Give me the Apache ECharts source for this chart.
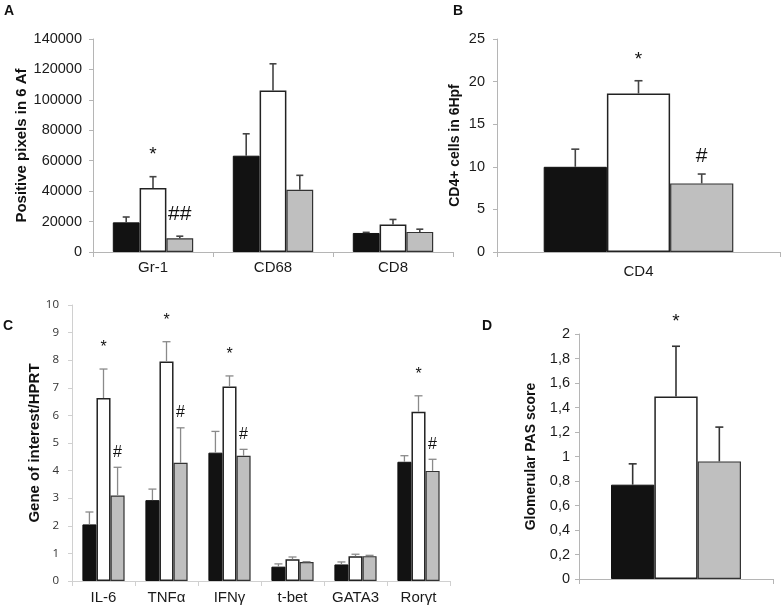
<!DOCTYPE html>
<html><head><meta charset="utf-8">
<script src="https://cdn.jsdelivr.net/npm/echarts@6/dist/echarts.min.js"></script>
<style>html,body{margin:0;padding:0;background:#fff}#c{width:784px;height:609px}</style>
</head><body><div id="c"></div>
<script>
// ---------- DATA ----------
// Panel A
const aCategories = ['Gr-1', 'CD68', 'CD8'];
const aBlack = [19500, 63300, 12500];
const aBlackErr = [3500, 14400, 400];
const aWhite = [42000, 106200, 18100];
const aWhiteErr = [7500, 17500, 3300];
const aGray = [9000, 40900, 13200];
const aGrayErr = [1400, 9500, 1800];
const aWhiteMarks = ['*', '', ''];
const aGrayMarks = ['##', '', ''];
const aTicks = [0, 140000, 20000];
// Panel B
const bCategories = ['CD4'];
const bBlack = [10.0];
const bBlackErr = [2.07];
const bWhite = [18.6];
const bWhiteErr = [1.5];
const bGray = [8.05];
const bGrayErr = [1.1];
const bWhiteMarks = ['*'];
const bGrayMarks = ['#'];
const bTicks = [0, 25, 5];
// Panel C
const cCategories = ['IL-6', 'TNFα', 'IFNγ', 't-bet', 'GATA3', 'Rorγt'];
const cBlack = [2.05, 2.93, 4.65, 0.52, 0.60, 4.32];
const cBlackErr = [0.45, 0.40, 0.77, 0.10, 0.09, 0.22];
const cWhite = [6.63, 7.95, 7.05, 0.79, 0.90, 6.13];
const cWhiteErr = [1.05, 0.72, 0.38, 0.08, 0.07, 0.58];
const cGray = [3.10, 4.28, 4.54, 0.69, 0.90, 3.99];
const cGrayErr = [1.02, 1.27, 0.23, 0.01, 0.03, 0.42];
const cWhiteMarks = ['*', '*', '*', '', '', '*'];
const cGrayMarks = ['#', '#', '#', '', '', '#'];
const cTicks = [0, 10, 1];
// Panel D
const dCategories = [''];
const dBlack = [0.77];
const dBlackErr = [0.17];
const dWhite = [1.49];
const dWhiteErr = [0.41];
const dGray = [0.96];
const dGrayErr = [0.28];
const dWhiteMarks = ['*'];
const dGrayMarks = [''];
const dTicks = [0, 2, 0.2];

// ---------- STYLE ----------
const GAP = 0.33;
const FONT = 'Liberation Sans, Arial, Helvetica, sans-serif';
const fills = [
  { color: '#121212', borderColor: '#111', borderWidth: 1 },
  { color: '#ffffff', borderColor: '#222', borderWidth: 1.5 },
  { color: '#bfbfbf', borderColor: '#333', borderWidth: 1.2 }
];

const panels = [
  { cats: aCategories, groups: [[aBlack, aBlackErr, null], [aWhite, aWhiteErr, aWhiteMarks], [aGray, aGrayErr, aGrayMarks]],
    ticks: aTicks, grid: { left: 93, top: 39, width: 360, height: 213 },
    name: 'Positive pixels in 6 Af', nameSize: 15, nameGap: 64, labelSize: 14.5, labelMargin: 11,
    catMargin: 8, axisColor: '#b5b5b5', err: { color: '#444', width: 1.6, cap: 3.5 },
    star: { size: 19, off: 22 }, hash: { size: 21, off: 22 }, tickFont: FONT },
  { cats: bCategories, groups: [[bBlack, bBlackErr, null], [bWhite, bWhiteErr, bWhiteMarks], [bGray, bGrayErr, bGrayMarks]],
    ticks: bTicks, grid: { left: 497, top: 39, width: 283, height: 213 },
    name: 'CD4+ cells in 6Hpf', nameSize: 14, nameGap: 35, labelSize: 14.5, labelMargin: 12,
    catMargin: 12, axisColor: '#b5b5b5', err: { color: '#444', width: 1.6, cap: 4 },
    star: { size: 19, off: 21 }, hash: { size: 21, off: 18 }, tickFont: FONT },
  { cats: cCategories, groups: [[cBlack, cBlackErr, null], [cWhite, cWhiteErr, cWhiteMarks], [cGray, cGrayErr, cGrayMarks]],
    ticks: cTicks, grid: { left: 72, top: 305, width: 378, height: 276 },
    name: 'Gene of interest/HPRT', nameSize: 15, nameGap: 29, labelSize: 11.5, labelMargin: 13,
    catMargin: 9, axisColor: '#d0d0d0', err: { color: '#8a8a8a', width: 1.3, cap: 4 },
    star: { size: 16, off: 21 }, hash: { size: 16, off: 15 }, tickFont: 'Open Sans, sans-serif' },
  { cats: dCategories, groups: [[dBlack, dBlackErr, null], [dWhite, dWhiteErr, dWhiteMarks], [dGray, dGrayErr, dGrayMarks]],
    ticks: dTicks, grid: { left: 579, top: 334, width: 194, height: 245 },
    name: 'Glomerular PAS score', nameSize: 14, nameGap: 41, labelSize: 14.5, labelMargin: 9,
    catMargin: 8, axisColor: '#b5b5b5', err: { color: '#333', width: 1.6, cap: 4 },
    star: { size: 19, off: 24 }, hash: { size: 18, off: 18 }, tickFont: FONT }
];

function errRender(gi, marks, p) {
  return function (params, api) {
    const k = api.value(0), v = api.value(1), e = api.value(2);
    const bandW = api.size([1, 0])[0];
    const bw = bandW * (1 - GAP) / 3;
    const p0 = api.coord([k, v]);
    const p1 = api.coord([k, v + e]);
    const x = p0[0] + (gi - 1) * bw;
    const st = { stroke: p.err.color, lineWidth: p.err.width };
    const children = [
      { type: 'line', shape: { x1: x, y1: p0[1], x2: x, y2: p1[1] }, style: st },
      { type: 'line', shape: { x1: x - p.err.cap, y1: p1[1], x2: x + p.err.cap, y2: p1[1] }, style: st }
    ];
    const t = marks ? marks[params.dataIndex] : '';
    if (t) {
      const m = t === '*' ? p.star : p.hash;
      children.push({ type: 'text', style: { text: t, x: x, y: p1[1] - m.off, align: 'center', verticalAlign: 'middle',
        fontSize: m.size, fontFamily: FONT, fill: '#111' } });
    }
    return { type: 'group', children };
  };
}

const grid = [], xAxis = [], yAxis = [], series = [];
panels.forEach((p, i) => {
  grid.push(p.grid);
  xAxis.push({
    type: 'category', gridIndex: i, data: p.cats,
    axisLine: { lineStyle: { color: p.axisColor, width: 1 } },
    axisTick: { show: true, length: 5, lineStyle: { color: p.axisColor } },
    axisLabel: { fontSize: 15, color: '#1a1a1a', fontFamily: FONT, margin: p.catMargin }
  });
  yAxis.push({
    type: 'value', gridIndex: i, min: p.ticks[0], max: p.ticks[1], interval: p.ticks[2],
    name: p.name, nameLocation: 'middle', nameGap: p.nameGap,
    nameTextStyle: { fontSize: p.nameSize, fontWeight: 'bold', color: '#111', fontFamily: FONT },
    axisLine: { show: true, lineStyle: { color: p.axisColor, width: 1 } },
    axisTick: { show: true, length: 4, lineStyle: { color: p.axisColor } },
    splitLine: { show: false },
    axisLabel: {
      fontSize: p.labelSize, color: i === 2 ? '#333' : '#1a1a1a', fontFamily: p.tickFont, margin: p.labelMargin,
      formatter: i === 3 ? (v) => String(+v.toFixed(1)).replace('.', ',') : (v) => String(+v.toFixed(4))
    }
  });
  p.groups.forEach((g, gi) => {
    series.push({
      type: 'bar', xAxisIndex: i, yAxisIndex: i, data: g[0],
      barGap: '0%', barCategoryGap: (GAP * 100) + '%',
      itemStyle: fills[gi], z: 2, silent: true
    });
  });
  p.groups.forEach((g, gi) => {
    series.push({
      type: 'custom', xAxisIndex: i, yAxisIndex: i,
      data: g[0].map((v, k) => [k, v, g[1][k]]),
      encode: { x: 0, y: 1 },
      renderItem: errRender(gi, g[2], p), z: 3, silent: true
    });
  });
});

const chart = echarts.init(document.getElementById('c'), null, { renderer: 'canvas' });
chart.setOption({
  animation: false,
  backgroundColor: '#fff',
  grid, xAxis, yAxis, series,
  graphic: [
    { type: 'text', left: 4, top: 4, style: { text: 'A', fontSize: 14, fontWeight: 'bold', fontFamily: FONT, fill: '#111' } },
    { type: 'text', left: 453, top: 4, style: { text: 'B', fontSize: 14, fontWeight: 'bold', fontFamily: FONT, fill: '#111' } },
    { type: 'text', left: 3, top: 319, style: { text: 'C', fontSize: 14, fontWeight: 'bold', fontFamily: FONT, fill: '#111' } },
    { type: 'text', left: 482, top: 319, style: { text: 'D', fontSize: 14, fontWeight: 'bold', fontFamily: FONT, fill: '#111' } }
  ]
});
</script></body></html>
